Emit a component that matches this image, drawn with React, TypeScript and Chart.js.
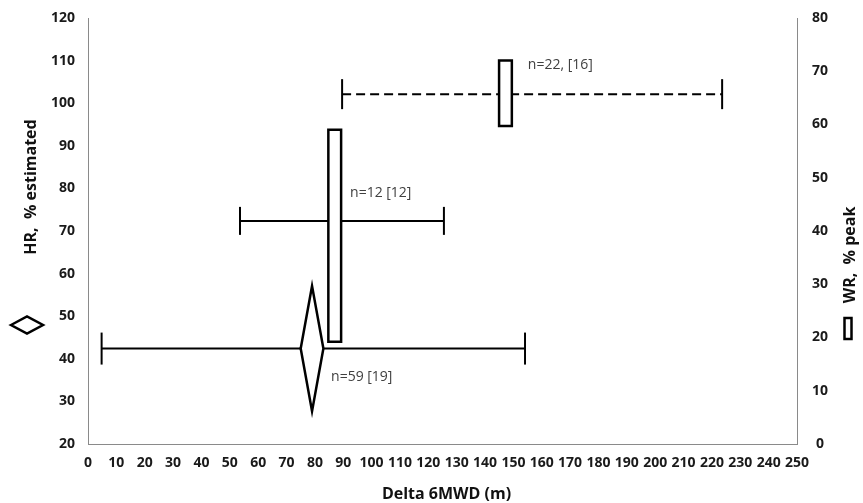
import React, { useEffect, useRef } from 'react';
import { Chart, registerables } from 'chart.js';

Chart.register(...registerables);

// ---- data ----
const groupLabels = ['n=59 [19]', 'n=12 [12]', 'n=22, [16]'];
const groupAxis = ['yHR', 'yWR', 'yWR'];
const groupShape = ['diamond', 'rect', 'rect'];
const groupDashed = [false, false, true];

// Delta 6MWD (m): centre and range
const delta6mwdMean = [79.0, 87.0, 147.2];
const delta6mwdLow = [4.8, 53.6, 89.6];
const delta6mwdHigh = [154.1, 125.5, 223.6];

// HR % estimated (n=59) / WR % peak (n=12, n=22): centre and range
const yMean = [42.4, 41.9, 65.7];
const yLow = [27.7, 19.2, 59.7];
const yHigh = [57.1, 59.0, 72.0];

// annotation anchors (x in m, y in HR %)
const labelAtX = [85.7, 92.4, 155.1];
const labelAtHR = [35.7, 78.9, 109.0];

const xTicks = [0, 10, 20, 30, 40, 50, 60, 70, 80, 90, 100, 110, 120, 130, 140, 150, 160, 170, 180, 190, 200, 210, 220, 230, 240, 250];
const hrTicks = [20, 30, 40, 50, 60, 70, 80, 90, 100, 110, 120];
const wrTicks = [0, 10, 20, 30, 40, 50, 60, 70, 80];

const xTitle = 'Delta 6MWD (m)';
const hrTitle = 'HR,  % estimated';
const wrTitle = 'WR,  % peak';

// ---- styles ----
const DIAMOND_HALF_WIDTH = 4.0;
const RECT_HALF_WIDTH = 2.25;
const CAP_RADIUS = [16, 14, 15];
const FONT = '"Open Sans", sans-serif';
const AXIS_COLOR = '#8a8a8a';
const TICK_COLOR = '#1a1a1a';

const decorPlugin = {
  id: 'decor',
  afterDraw(chart: any) {
    const { ctx, chartArea, scales } = chart;
    ctx.save();
    // annotations
    ctx.font = `14px ${FONT}`;
    ctx.fillStyle = '#404040';
    ctx.textAlign = 'left';
    ctx.textBaseline = 'middle';
    groupLabels.forEach((t, i) => {
      ctx.fillText(t, scales.x.getPixelForValue(labelAtX[i]), scales.yHR.getPixelForValue(labelAtHR[i]));
    });

    ctx.fillStyle = '#111';
    ctx.font = `bold 16px ${FONT}`;
    ctx.textAlign = 'center';
    // x title
    ctx.fillText(xTitle, (chartArea.left + chartArea.right) / 2 + 4, chartArea.bottom + 50);

    // left title (rotated)
    ctx.save();
    ctx.translate(chartArea.left - 56.5, chartArea.top + 169);
    ctx.rotate(-Math.PI / 2);
    ctx.fillText(hrTitle, 0, 0);
    ctx.restore();

    // right title (rotated)
    ctx.save();
    ctx.translate(chartArea.right + 53, chartArea.top + 237);
    ctx.rotate(-Math.PI / 2);
    ctx.fillText(wrTitle, 0, 0);
    ctx.restore();

    // legend symbols
    ctx.strokeStyle = '#000';
    ctx.fillStyle = '#fff';
    ctx.lineWidth = 2.5;
    ctx.lineJoin = 'miter';
    const dx = chartArea.left - 61;
    const dy = chartArea.top + 307;
    ctx.beginPath();
    ctx.moveTo(dx - 16, dy);
    ctx.lineTo(dx, dy - 8.5);
    ctx.lineTo(dx + 16, dy);
    ctx.lineTo(dx, dy + 8.5);
    ctx.closePath();
    ctx.fill();
    ctx.stroke();

    const rx = chartArea.right + 47.5;
    const ry = chartArea.top + 300;
    ctx.fillRect(rx, ry, 7, 21);
    ctx.strokeRect(rx, ry, 7, 21);
    ctx.restore();
  },
};

export default function App() {
  const ref = useRef<HTMLCanvasElement>(null);

  useEffect(() => {
    document.body.style.margin = '0';
    const canvas = ref.current!;
    const datasets: any[] = [];
    groupLabels.forEach((label, i) => {
      const axis = groupAxis[i];
      const m = delta6mwdMean[i];
      let pts: { x: number; y: number }[];
      if (groupShape[i] === 'diamond') {
        const hw = DIAMOND_HALF_WIDTH;
        pts = [
          { x: m - hw, y: yMean[i] },
          { x: m, y: yHigh[i] },
          { x: m + hw, y: yMean[i] },
          { x: m, y: yLow[i] },
          { x: m - hw, y: yMean[i] },
        ];
      } else {
        const hw = RECT_HALF_WIDTH;
        pts = [
          { x: m - hw, y: yLow[i] },
          { x: m - hw, y: yHigh[i] },
          { x: m + hw, y: yHigh[i] },
          { x: m + hw, y: yLow[i] },
          { x: m - hw, y: yLow[i] },
        ];
      }
      datasets.push({
        label: label + ' shape',
        data: pts,
        yAxisID: axis,
        showLine: true,
        fill: 'shape',
        backgroundColor: '#ffffff',
        borderColor: '#000000',
        borderWidth: 2.5,
        borderJoinStyle: 'miter',
        borderCapStyle: 'square',
        pointRadius: 0,
        pointHoverRadius: 0,
        tension: 0,
        order: 0,
      });
      datasets.push({
        label: label + ' range',
        data: [
          { x: delta6mwdLow[i], y: yMean[i] },
          { x: delta6mwdHigh[i], y: yMean[i] },
        ],
        yAxisID: axis,
        showLine: true,
        fill: false,
        borderColor: '#000000',
        borderWidth: 2,
        borderDash: groupDashed[i] ? [9, 5] : [],
        pointStyle: 'line',
        pointRotation: 90,
        pointRadius: CAP_RADIUS[i],
        pointHoverRadius: CAP_RADIUS[i],
        pointBorderWidth: 2,
        pointBorderColor: '#000000',
        pointBackgroundColor: '#000000',
        order: 1,
      });
    });

    const tickFont = { family: FONT, size: 14, weight: 'bold' as const };
    const fitVertical = (w: number) => (s: any) => {
      s.width = w;
      s.paddingTop = 8;
      s.paddingBottom = 8;
    };

    const chart = new Chart(canvas, {
      type: 'scatter',
      data: { datasets },
      plugins: [decorPlugin],
      options: {
        animation: false,
        responsive: false,
        devicePixelRatio: 1,
        events: [],
        layout: { padding: { top: 15, left: 0, right: 0, bottom: 0 } },
        plugins: {
          legend: { display: false },
          tooltip: { enabled: false },
        },
        scales: {
          x: {
            type: 'linear',
            position: 'bottom',
            min: 0,
            max: 250,
            afterBuildTicks: (s: any) => {
              s.ticks = xTicks.map((v) => ({ value: v }));
            },
            afterFit: (s: any) => {
              s.height = 59;
            },
            grid: { display: false, drawTicks: false },
            border: { display: true, color: AXIS_COLOR, width: 1 },
            ticks: {
              font: tickFont,
              color: TICK_COLOR,
              padding: 11,
              autoSkip: false,
              maxRotation: 0,
              minRotation: 0,
            },
          },
          yHR: {
            type: 'linear',
            position: 'left',
            min: 20,
            max: 120,
            afterBuildTicks: (s: any) => {
              s.ticks = hrTicks.map((v) => ({ value: v }));
            },
            afterFit: fitVertical(88),
            grid: { display: false, drawTicks: false },
            border: { display: true, color: AXIS_COLOR, width: 1 },
            ticks: { font: tickFont, color: TICK_COLOR, padding: 13, crossAlign: 'near' },
          },
          yWR: {
            type: 'linear',
            position: 'right',
            min: 0,
            max: 80,
            afterBuildTicks: (s: any) => {
              s.ticks = wrTicks.map((v) => ({ value: v }));
            },
            afterFit: fitVertical(66),
            grid: { display: false, drawTicks: false },
            border: { display: true, color: AXIS_COLOR, width: 1 },
            ticks: { font: tickFont, color: TICK_COLOR, padding: 15, crossAlign: 'center' },
          },
        },
      } as any,
    });
    return () => chart.destroy();
  }, []);

  return (
    <div style={{ width: 863, height: 503, background: '#fff' }}>
      <canvas ref={ref} width={863} height={503} style={{ display: 'block', width: 863, height: 503 }} />
    </div>
  );
}
